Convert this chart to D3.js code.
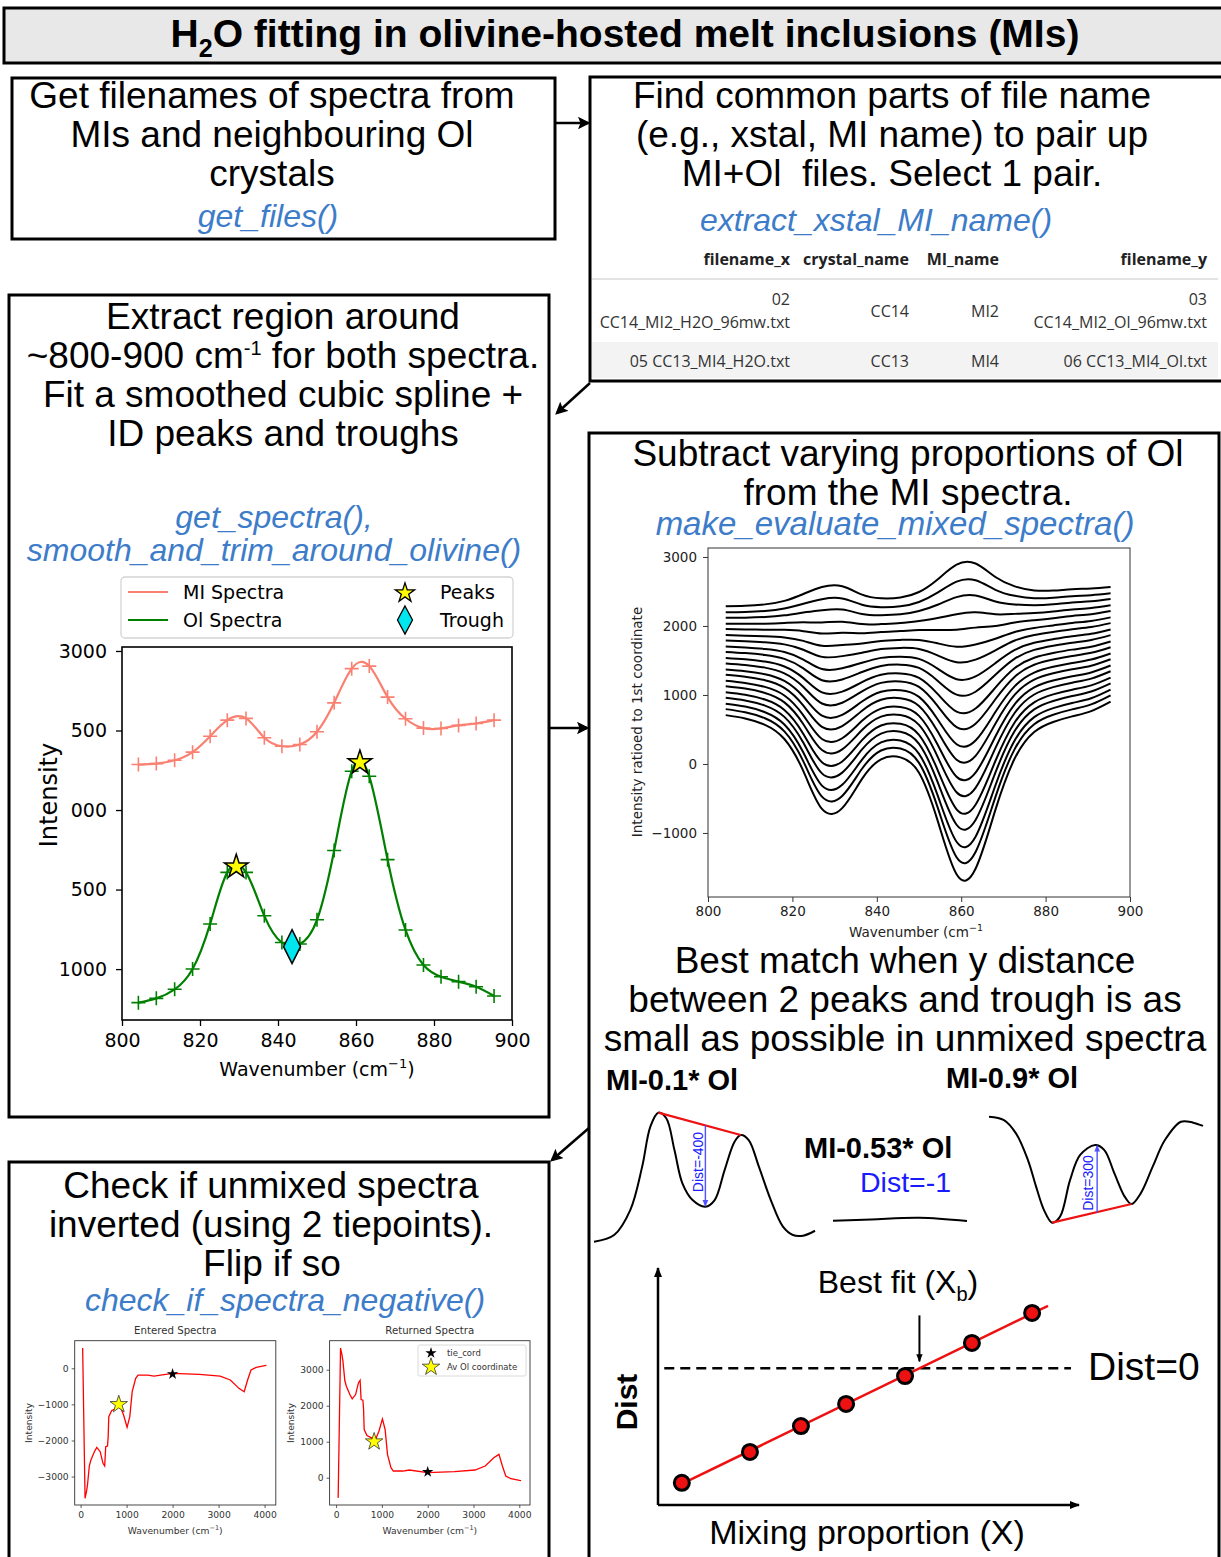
<!DOCTYPE html>
<html><head><meta charset="utf-8">
<script src="https://cdn.jsdelivr.net/npm/d3@7"></script>
<style>body{margin:0;background:#fff} svg{display:block}</style>
</head><body>
<svg id="c" width="1221" height="1557"></svg>
<script>
// ---------------- DATA ----------------
const wavenumbers = [804.2, 808.8, 813.5, 818.1, 822.6, 827.0, 831.8, 836.5, 841.0, 845.6, 850.0, 854.4, 858.9, 863.4, 868.1, 872.7, 877.3, 881.8, 886.3, 890.8, 895.4];
const miSpectra = [2286, 2292, 2313, 2364, 2464, 2565, 2576, 2454, 2401, 2412, 2492, 2674, 2889, 2905, 2710, 2574, 2515, 2513, 2532, 2544, 2565];
const olSpectra = [789, 816, 873, 1001, 1284, 1608, 1608, 1335, 1167, 1158, 1310, 1746, 2244, 2212, 1688, 1246, 1026, 952, 921, 889, 831];
const peakWn = [829.3, 861.0];
const peakInt = [1656, 2311];
const troughWn = [843.6];
const troughInt = [1141];
const spectraXTicks = [800, 820, 840, 860, 880, 900];
const leftYTicks = [3000, 2500, 2000, 1500, 1000];
const leftYTickLabels = ["3000", "500", "000", "500", "1000"];
const legendLabels = ["MI Spectra", "Ol Spectra", "Peaks", "Trough"];

const mixProportions = [0, 0.11, 0.21, 0.32, 0.42, 0.53, 0.63, 0.74, 0.84, 0.95, 1.05, 1.16, 1.26, 1.37, 1.47, 1.58, 1.68, 1.79, 1.89, 2.0];
const mixedYTicks = [3000, 2000, 1000, 0, -1000];

const enteredWn = [45, 97, 130, 150, 190, 224, 300, 352, 426, 487, 524, 546, 585, 600, 613, 674, 772, 846, 935, 1011, 1070, 1122, 1198, 1250, 1459, 1598, 1998, 2583, 3033, 3256, 3443, 3556, 3631, 3705, 3818, 4005, 4040];
const enteredInt = [560, -3601, -3400, -3232, -2700, -2540, -2310, -2189, -2310, -2632, -2706, -2171, -2152, -1900, -1340, -1174, -1108, -1016, -1293, -1634, -1340, -648, -277, -186, -186, -214, -139, -167, -214, -324, -555, -648, -324, -46, 28, 74, 80];
const smallXTicks = [0, 1000, 2000, 3000, 4000];
const enteredYTicks = [0, -1000, -2000, -3000];
const returnedYTicks = [0, 1000, 2000, 3000];
const tieCord = [2000, -160];
const avOlCoord = [830, -1000];

const tableHeaders = ["filename_x", "crystal_name", "MI_name", "filename_y"];
const tableRow1 = [["02", "CC14_MI2_H2O_96mw.txt"], ["CC14"], ["MI2"], ["03", "CC14_MI2_Ol_96mw.txt"]];
const tableRow2 = [["05 CC13_MI4_H2O.txt"], ["CC13"], ["MI4"], ["06 CC13_MI4_Ol.txt"]];

// schematic sketches (arbitrary units 0-100)
const sketchLowX = [0, 9.1, 16.4, 21.8, 25.5, 29.1, 32.7, 36.4, 40, 44.6, 50.4, 54.6, 59.1, 63.6, 66.4, 70, 74.6, 80, 85.5, 90, 94.6, 100];
const sketchLowY = [2.4, 7.3, 25.5, 57.2, 86.4, 96.6, 92.5, 69.3, 45, 32.8, 28, 32.8, 54.7, 75.4, 80.3, 76.6, 57.2, 32.8, 13.4, 7.3, 6.8, 10.4];
const sketchFlatX = [0, 28.5, 64.4, 100];
const sketchFlatY = [17.7, 18.7, 19.9, 17.5];
const sketchHighX = [0, 7, 12.6, 18.2, 22, 25.7, 29.5, 33.2, 37.9, 42.6, 49.6, 53.9, 58.6, 63.4, 66.6, 70.9, 76.5, 82.2, 89.7, 95.4, 100];
const sketchHighY = [93.7, 91.2, 81.5, 62, 42.6, 25.5, 16.3, 20.7, 47.5, 65.7, 73, 69.3, 52.3, 35.3, 29.9, 37.7, 57.2, 76.6, 90, 89.3, 86.9];

const mixX = [0.057, 0.22, 0.342, 0.45, 0.591, 0.751, 0.895];
const mixDist = [-419, -306, -211, -130, -28, 93, 203];

// ---------------- SETUP ----------------
const svg = d3.select("#c");
const ARIAL = "'Liberation Sans', Arial, sans-serif";
const DEJAVU = "'DejaVu Sans', sans-serif";
const TABLEF = "'Open Sans', 'Noto Sans', sans-serif";
const BLUE = "#3d7cc9";

function txt(x, y, s, o = {}) {
  const t = svg.append("text").attr("x", x).attr("y", y).text(s)
    .attr("font-family", o.ff || ARIAL).attr("font-size", o.fs || 37)
    .attr("text-anchor", o.anchor || "middle").attr("fill", o.fill || "#000");
  if (o.bold) t.attr("font-weight", "bold");
  if (o.italic) t.attr("font-style", "italic");
  if (o.rotate) t.attr("transform", `rotate(${o.rotate},${x},${y})`);
  return t;
}
function box(x, y, w, h, fill) {
  svg.append("rect").attr("x", x).attr("y", y).attr("width", w).attr("height", h)
    .attr("fill", fill || "#fff").attr("stroke", "#000").attr("stroke-width", 3);
}
const defs = svg.append("defs");
defs.append("marker").attr("id", "ah").attr("viewBox", "0 0 10 10").attr("refX", 8).attr("refY", 5)
  .attr("markerWidth", 5).attr("markerHeight", 5).attr("orient", "auto")
  .append("path").attr("d", "M0,0L10,5L0,10L2,5Z").attr("fill", "#000");
defs.append("marker").attr("id", "ahb").attr("viewBox", "0 0 10 10").attr("refX", 8).attr("refY", 5)
  .attr("markerWidth", 5).attr("markerHeight", 5).attr("orient", "auto")
  .append("path").attr("d", "M0,1L10,5L0,9Z").attr("fill", "#5050ff");
defs.append("marker").attr("id", "ahs").attr("viewBox", "0 0 10 10").attr("refX", 9).attr("refY", 5)
  .attr("markerWidth", 4).attr("markerHeight", 4).attr("orient", "auto")
  .append("path").attr("d", "M0,1L10,5L0,9Z").attr("fill", "#000");
function arrow(x1, y1, x2, y2, w, m, col) {
  svg.append("line").attr("x1", x1).attr("y1", y1).attr("x2", x2).attr("y2", y2)
    .attr("stroke", col || "#000").attr("stroke-width", w || 2.5).attr("marker-end", `url(#${m || "ah"})`);
}

// ---------------- TITLE ----------------
box(4, 8, 1240, 55, "#e8e8e8");
const tt = svg.append("text").attr("x", 625).attr("y", 47).attr("text-anchor", "middle")
  .attr("font-family", ARIAL).attr("font-size", 39).attr("font-weight", "bold");
tt.append("tspan").text("H");
tt.append("tspan").text("2").attr("font-size", 25).attr("dy", 10);
tt.append("tspan").text("O fitting in olivine-hosted melt inclusions (MIs)").attr("dy", -10);

// ---------------- BOXES ----------------
box(12, 78, 543, 161);
box(590, 77, 640, 304);
box(9, 295, 540, 822);
box(589, 433, 630, 1140);
box(9, 1162, 540, 420);

arrow(556, 123, 588, 123);
arrow(590, 383, 557, 413);
arrow(549, 728, 587, 728);
arrow(589, 1128, 552, 1160);

// Box 1
txt(272, 108, "Get filenames of spectra from");
txt(272, 147, "MIs and neighbouring Ol");
txt(272, 186, "crystals");
txt(268, 227, "get_files()", { fill: BLUE, italic: true, fs: 32 });

// Box 2
txt(892, 108, "Find common parts of file name");
txt(892, 147, "(e.g., xstal, MI name) to pair up");
txt(892, 186, "MI+Ol  files. Select 1 pair.").attr("xml:space", "preserve");
txt(876, 231, "extract_xstal_MI_name()", { fill: BLUE, italic: true, fs: 32 });

// table
const colRight = [790, 909, 999, 1207];
const TFS = 16;
svg.append("line").attr("x1", 592).attr("x2", 1218).attr("y1", 279).attr("y2", 279).attr("stroke", "#c8c8c8").attr("stroke-width", 1.2);
svg.append("rect").attr("x", 592).attr("y", 342).attr("width", 626).attr("height", 36).attr("fill", "#f3f3f3");
tableHeaders.forEach((h, i) => txt(colRight[i], 265, h, { ff: TABLEF, fs: TFS, bold: true, anchor: "end", fill: "#222" }));
tableRow1.forEach((cell, i) => {
  if (cell.length === 2) {
    txt(colRight[i], 305, cell[0], { ff: TABLEF, fs: TFS, anchor: "end", fill: "#333" });
    txt(colRight[i], 328, cell[1], { ff: TABLEF, fs: TFS, anchor: "end", fill: "#333" });
  } else txt(colRight[i], 317, cell[0], { ff: TABLEF, fs: TFS, anchor: "end", fill: "#333" });
});
tableRow2.forEach((cell, i) => txt(colRight[i], 367, cell[0], { ff: TABLEF, fs: TFS, anchor: "end", fill: "#333" }));

// Box 3 text
txt(283, 329, "Extract region around");
const l2 = txt(283, 368, "~800-900 cm");
l2.append("tspan").text("-1").attr("font-size", 20).attr("dy", -13);
l2.append("tspan").text(" for both spectra.").attr("dy", 13);
txt(283, 407, "Fit a smoothed cubic spline +");
txt(283, 446, "ID peaks and troughs");
txt(274, 528, "get_spectra(),", { fill: BLUE, italic: true, fs: 32 });
txt(274, 561, "smooth_and_trim_around_olivine()", { fill: BLUE, italic: true, fs: 32 });

// ---------------- LEFT SPECTRA PLOT ----------------
const xL = d3.scaleLinear([800, 900], [122, 512]);
const yL = d3.scaleLinear([680, 3025], [1020, 647]);
const colMI = "#fa8072", colOl = "#008000";
const gl = svg.append("g");
const lineL = d3.line().curve(d3.curveNatural);
gl.append("path").attr("d", lineL(wavenumbers.map((w, i) => [xL(w), yL(miSpectra[i])])))
  .attr("fill", "none").attr("stroke", colMI).attr("stroke-width", 2.2);
gl.append("path").attr("d", lineL(wavenumbers.map((w, i) => [xL(w), yL(olSpectra[i])])))
  .attr("fill", "none").attr("stroke", colOl).attr("stroke-width", 2.2);
const plus = "M-7,0H7M0,-7V7";
[[miSpectra, colMI], [olSpectra, colOl]].forEach(([arr, c]) => {
  gl.selectAll(null).data(wavenumbers).enter().append("path").attr("d", plus)
    .attr("transform", (w, i) => `translate(${xL(w)},${yL(arr[i])})`)
    .attr("stroke", c).attr("stroke-width", 1.6).attr("fill", "none");
});
const starBig = d3.symbol(d3.symbolStar).size(175)();
gl.selectAll(null).data(peakWn).enter().append("path").attr("d", starBig)
  .attr("transform", (w, i) => `translate(${xL(w)},${yL(peakInt[i]) + 2})`)
  .attr("fill", "#ffff00").attr("stroke", "#000").attr("stroke-width", 1.5);
const diamond = "M0,-17L8.5,0L0,17L-8.5,0Z";
gl.selectAll(null).data(troughWn).enter().append("path").attr("d", diamond)
  .attr("transform", (w, i) => `translate(${xL(w)},${yL(troughInt[i])})`)
  .attr("fill", "#00e5ee").attr("stroke", "#000").attr("stroke-width", 1.5);

gl.append("rect").attr("x", 122).attr("y", 647).attr("width", 390).attr("height", 373)
  .attr("fill", "none").attr("stroke", "#000").attr("stroke-width", 1.6);
const axL = gl.append("g").attr("transform", "translate(122,0)")
  .call(d3.axisLeft(yL).tickValues(leftYTicks).tickFormat((d, i) => leftYTickLabels[i]).tickSize(6).tickPadding(9));
const axB = gl.append("g").attr("transform", "translate(0,1020)")
  .call(d3.axisBottom(xL).tickValues(spectraXTicks).tickSize(6).tickPadding(8));
[axL, axB].forEach(a => {
  a.select(".domain").remove();
  a.selectAll("line").attr("stroke", "#000").attr("stroke-width", 1.3);
  a.selectAll("text").attr("font-family", DEJAVU).attr("font-size", 19).attr("fill", "#000");
});
txt(57, 795, "Intensity", { ff: DEJAVU, fs: 24, rotate: -90 });
const xlab = txt(317, 1076, "Wavenumber (cm", { ff: DEJAVU, fs: 19 });
xlab.append("tspan").text("−1").attr("font-size", 13).attr("dy", -8);
xlab.append("tspan").text(")").attr("dy", 8);

// legend
gl.append("rect").attr("x", 121).attr("y", 577).attr("width", 392).attr("height", 61).attr("rx", 4)
  .attr("fill", "#fff").attr("stroke", "#d4d4d4").attr("stroke-width", 1.3);
gl.append("line").attr("x1", 128).attr("x2", 168).attr("y1", 592).attr("y2", 592).attr("stroke", colMI).attr("stroke-width", 2.2);
gl.append("line").attr("x1", 128).attr("x2", 168).attr("y1", 620).attr("y2", 620).attr("stroke", colOl).attr("stroke-width", 2.2);
txt(183, 599, legendLabels[0], { ff: DEJAVU, fs: 19, anchor: "start" });
txt(183, 627, legendLabels[1], { ff: DEJAVU, fs: 19, anchor: "start" });
gl.append("path").attr("d", d3.symbol(d3.symbolStar).size(115)()).attr("transform", "translate(405,593)")
  .attr("fill", "#ffff00").attr("stroke", "#000").attr("stroke-width", 1.3);
gl.append("path").attr("d", "M0,-14L7.5,0L0,14L-7.5,0Z").attr("transform", "translate(405,620)")
  .attr("fill", "#00e5ee").attr("stroke", "#000").attr("stroke-width", 1.3);
txt(440, 599, legendLabels[2], { ff: DEJAVU, fs: 19, anchor: "start" });
txt(440, 627, legendLabels[3], { ff: DEJAVU, fs: 19, anchor: "start" });

// ---------------- BOX 4: MIXED SPECTRA ----------------
txt(908, 466, "Subtract varying proportions of Ol");
txt(908, 505, "from the MI spectra.");
txt(895, 535, "make_evaluate_mixed_spectra()", { fill: BLUE, italic: true, fs: 33 });

const xR = d3.scaleLinear([800, 900], [708, 1130]);
const yR = d3.scaleLinear([-1928, 3130], [897, 548]);
const gr = svg.append("g");
const lineR = d3.line().curve(d3.curveNatural);
mixProportions.forEach(k => {
  gr.append("path").attr("d", lineR(wavenumbers.map((w, i) => [xR(w), yR(miSpectra[i] - k * olSpectra[i])])))
    .attr("fill", "none").attr("stroke", "#000").attr("stroke-width", 2);
});
gr.append("rect").attr("x", 708).attr("y", 548).attr("width", 422).attr("height", 349)
  .attr("fill", "none").attr("stroke", "#333").attr("stroke-width", 1);
const axRL = gr.append("g").attr("transform", "translate(708,0)")
  .call(d3.axisLeft(yR).tickValues(mixedYTicks).tickFormat(d => d < 0 ? "−" + Math.abs(d) : d).tickSize(5).tickPadding(6));
const axRB = gr.append("g").attr("transform", "translate(0,897)")
  .call(d3.axisBottom(xR).tickValues(spectraXTicks).tickSize(5).tickPadding(4));
[axRL, axRB].forEach(a => {
  a.select(".domain").remove();
  a.selectAll("line").attr("stroke", "#333").attr("stroke-width", 1);
  a.selectAll("text").attr("font-family", DEJAVU).attr("font-size", 13.5).attr("fill", "#222");
});
txt(642, 722, "Intensity ratioed to 1st coordinate", { ff: DEJAVU, fs: 13.5, rotate: -90, fill: "#222" });
const xlab2 = txt(916, 937, "Wavenumber (cm", { ff: DEJAVU, fs: 13.5, fill: "#222" });
xlab2.append("tspan").text("−1").attr("font-size", 9.5).attr("dy", -6);

txt(905, 973, "Best match when y distance");
txt(905, 1012, "between 2 peaks and trough is as");
txt(905, 1051, "small as possible in unmixed spectra");

// schematic labels
txt(606, 1090, "MI-0.1* Ol", { fs: 29, bold: true, anchor: "start" });
txt(946, 1088, "MI-0.9* Ol", { fs: 29, bold: true, anchor: "start" });
txt(804, 1158, "MI-0.53* Ol", { fs: 29, bold: true, anchor: "start" });
txt(860, 1192, "Dist=-1", { fs: 28.5, anchor: "start", fill: "#1a1aff" });

const sY = d3.scaleLinear([0, 100], [1245, 1108]);
const sXa = d3.scaleLinear([0, 100], [594, 815]);
const sXb = d3.scaleLinear([0, 100], [833, 967]);
const sXc = d3.scaleLinear([0, 100], [989, 1203]);
const sk = d3.line().curve(d3.curveCatmullRom);
const gs = svg.append("g");
gs.append("path").attr("d", sk(sketchLowX.map((x, i) => [sXa(x), sY(sketchLowY[i])]))).attr("fill", "none").attr("stroke", "#000").attr("stroke-width", 2);
gs.append("path").attr("d", sk(sketchFlatX.map((x, i) => [sXb(x), sY(sketchFlatY[i])]))).attr("fill", "none").attr("stroke", "#000").attr("stroke-width", 2);
gs.append("path").attr("d", sk(sketchHighX.map((x, i) => [sXc(x), sY(sketchHighY[i])]))).attr("fill", "none").attr("stroke", "#000").attr("stroke-width", 2);
// red tie lines
const aP1 = 5, aP2 = 14, aT = 10;
gs.append("line").attr("x1", sXa(sketchLowX[aP1])).attr("y1", sY(sketchLowY[aP1])).attr("x2", sXa(sketchLowX[aP2])).attr("y2", sY(sketchLowY[aP2]))
  .attr("stroke", "#ee1111").attr("stroke-width", 2.2);
const cT1 = 6, cT2 = 14, cP = 10;
gs.append("line").attr("x1", sXc(sketchHighX[cT1])).attr("y1", sY(sketchHighY[cT1])).attr("x2", sXc(sketchHighX[cT2])).attr("y2", sY(sketchHighY[cT2]))
  .attr("stroke", "#ee1111").attr("stroke-width", 2.2);
// blue distance arrows
const lineYa = d3.scaleLinear([sketchLowX[aP1], sketchLowX[aP2]], [sketchLowY[aP1], sketchLowY[aP2]])(sketchLowX[aT]);
arrow(sXa(sketchLowX[aT]), sY(lineYa), sXa(sketchLowX[aT]), sY(sketchLowY[aT]) - 1, 1.4, "ahb", "#5050ff");
const lineYc = d3.scaleLinear([sketchHighX[cT1], sketchHighX[cT2]], [sketchHighY[cT1], sketchHighY[cT2]])(sketchHighX[cP]);
arrow(sXc(sketchHighX[cP]) + 2, sY(lineYc), sXc(sketchHighX[cP]) + 2, sY(sketchHighY[cP]) + 1, 1.4, "ahb", "#5050ff");
txt(703, 1162, "Dist=-400", { fs: 14, rotate: -90, fill: "#2020ff" });
txt(1093, 1183, "Dist=300", { fs: 14, rotate: -90, fill: "#2020ff" });

// ---------------- DIST vs MIXING ----------------
const mX = d3.scaleLinear([0, 1], [658, 1076]);
const mY = d3.scaleLinear([-500, 360], [1505, 1270]);
const gm = svg.append("g");
arrow(mX(0), mY(-500), mX(0), mY(360) - 2, 2.5, "ahs");
arrow(mX(0), mY(-500), mX(1) + 3, mY(-500), 2.5, "ahs");
gm.append("line").attr("x1", mX(0.015)).attr("x2", mX(0.988)).attr("y1", mY(0)).attr("y2", mY(0))
  .attr("stroke", "#000").attr("stroke-width", 2.5).attr("stroke-dasharray", "10,6");
// least-squares fit line
const mxm = d3.mean(mixX), mym = d3.mean(mixDist);
const slope = d3.sum(mixX.map((x, i) => (x - mxm) * (mixDist[i] - mym))) / d3.sum(mixX.map(x => (x - mxm) ** 2));
const icpt = mym - slope * mxm;
const fitEnds = [mixX[0], 0.933];
gm.append("line").attr("x1", mX(fitEnds[0])).attr("y1", mY(icpt + slope * fitEnds[0]))
  .attr("x2", mX(fitEnds[1])).attr("y2", mY(icpt + slope * fitEnds[1]))
  .attr("stroke", "#ee1111").attr("stroke-width", 2.5);
gm.selectAll("circle").data(mixX).enter().append("circle")
  .attr("cx", d => mX(d)).attr("cy", (d, i) => mY(mixDist[i])).attr("r", 7.5)
  .attr("fill", "#ee1111").attr("stroke", "#000").attr("stroke-width", 3);
const bestX = -icpt / slope;
arrow(mX(bestX), mY(0) - 53, mX(bestX), mY(0) - 7, 2, "ahs");
const bf = txt(898, 1293, "Best fit (X", { fs: 32 });
bf.append("tspan").text("b").attr("font-size", 20).attr("dy", 8);
bf.append("tspan").text(")").attr("dy", -8);
txt(1088, 1380, "Dist=0", { fs: 39, anchor: "start" });
txt(637, 1402, "Dist", { fs: 30, bold: true, rotate: -90 });
txt(867, 1544, "Mixing proportion (X)", { fs: 34 });

// ---------------- BOX 5 ----------------
txt(271, 1198, "Check if unmixed spectra");
txt(271, 1237, "inverted (using 2 tiepoints).");
txt(272, 1276, "Flip if so");
txt(285, 1311, "check_if_spectra_negative()", { fill: BLUE, italic: true, fs: 32 });

function smallPlot(xs, ys, vals, yTicks, title, xPix) {
  const g = svg.append("g");
  const xScale = d3.scaleLinear(xs.dom, xPix);
  const yScale = d3.scaleLinear(ys, [1505, 1340.7]);
  g.append("path").attr("d", d3.line()(enteredWn.map((w, i) => [xScale(w), yScale(vals[i])])))
    .attr("fill", "none").attr("stroke", "#ff0000").attr("stroke-width", 1.3);
  g.append("rect").attr("x", xPix[0]).attr("y", 1340.7).attr("width", xPix[1] - xPix[0]).attr("height", 164.3)
    .attr("fill", "none").attr("stroke", "#333").attr("stroke-width", 0.9);
  const a1 = g.append("g").attr("transform", `translate(${xPix[0]},0)`)
    .call(d3.axisLeft(yScale).tickValues(yTicks).tickFormat(d => d < 0 ? "−" + Math.abs(d) : String(d)).tickSize(3).tickPadding(3));
  const a2 = g.append("g").attr("transform", "translate(0,1505)")
    .call(d3.axisBottom(xScale).tickValues(smallXTicks).tickFormat(d => String(d)).tickSize(3).tickPadding(3));
  [a1, a2].forEach(a => {
    a.select(".domain").remove();
    a.selectAll("line").attr("stroke", "#333").attr("stroke-width", 0.8);
    a.selectAll("text").attr("font-family", DEJAVU).attr("font-size", 9.2).attr("fill", "#333");
  });
  const cx = (xPix[0] + xPix[1]) / 2;
  txt(cx, 1334, title, { ff: DEJAVU, fs: 10.2, fill: "#333" });
  const xl = txt(cx, 1534, "Wavenumber (cm", { ff: DEJAVU, fs: 9.2, fill: "#333" });
  xl.append("tspan").text("−1").attr("font-size", 6.5).attr("dy", -4);
  xl.append("tspan").text(")").attr("dy", 4);
  return { xScale, yScale, g };
}
const ent = smallPlot({ dom: [-128, 4244] }, [-3787, 765], enteredInt, enteredYTicks, "Entered Spectra", [74.7, 275.8]);
txt(32, 1423, "Intensity", { ff: DEJAVU, fs: 9.2, rotate: -90, fill: "#333" });
const returnedInt = enteredInt.map(v => -v); // flipped spectrum
const ret = smallPlot({ dom: [-142, 4234] }, [-758, 3806], returnedInt, returnedYTicks, "Returned Spectra", [329.6, 530]);
txt(294, 1423, "Intensity", { ff: DEJAVU, fs: 9.2, rotate: -90, fill: "#333" });
const starY = d3.symbol(d3.symbolStar).size(95)();
const starK = d3.symbol(d3.symbolStar).size(40)();
[[ent, 1], [ret, -1]].forEach(([p, s]) => {
  p.g.append("path").attr("d", starK).attr("transform", `translate(${p.xScale(tieCord[0])},${p.yScale(s * tieCord[1])})`).attr("fill", "#000");
  p.g.append("path").attr("d", starY).attr("transform", `translate(${p.xScale(avOlCoord[0])},${p.yScale(s * avOlCoord[1])})`)
    .attr("fill", "#ffff00").attr("stroke", "#333").attr("stroke-width", 0.8);
});
// small legend
ret.g.append("rect").attr("x", 418).attr("y", 1345).attr("width", 108).attr("height", 31).attr("rx", 2)
  .attr("fill", "#fff").attr("stroke", "#d0d0d0").attr("stroke-width", 0.8);
ret.g.append("path").attr("d", starK).attr("transform", "translate(431,1353)").attr("fill", "#000");
ret.g.append("path").attr("d", starY).attr("transform", "translate(431,1367)").attr("fill", "#ffff00").attr("stroke", "#333").attr("stroke-width", 0.8);
txt(447, 1356, "tie_cord", { ff: DEJAVU, fs: 8.5, anchor: "start", fill: "#333" });
txt(447, 1370, "Av Ol coordinate", { ff: DEJAVU, fs: 8.5, anchor: "start", fill: "#333" });
</script>
</body></html>
